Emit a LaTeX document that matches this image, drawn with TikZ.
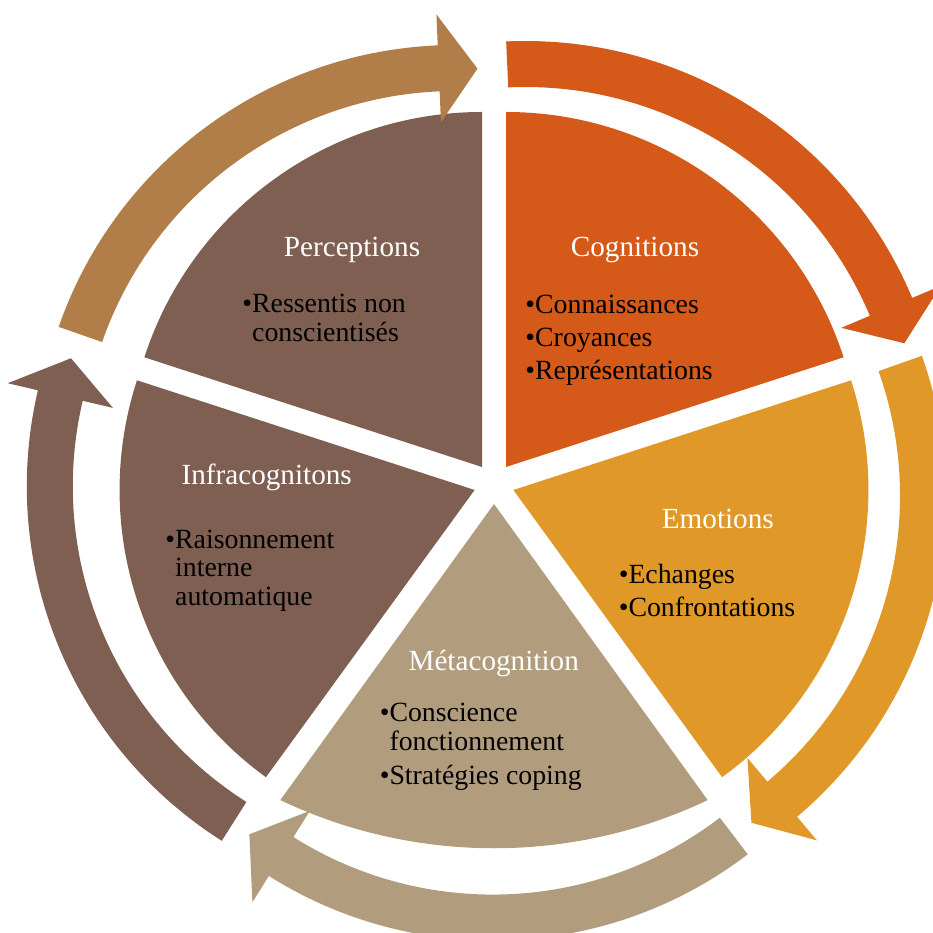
\documentclass[tikz,border=0pt]{standalone}
\usepackage{fontspec}
\setmainfont{Liberation Serif}
\definecolor{cbrown}{RGB}{126,95,82}
\definecolor{corange}{RGB}{213,89,24}
\definecolor{cyellow}{RGB}{224,153,40}
\definecolor{ckhaki}{RGB}{177,157,125}
\definecolor{ctan}{RGB}{177,126,73}
\newcommand{\cyclearrow}[5]{%
  \begin{scope}[shift={(#1,#2)}]
    \fill[#5] (#3:374pt) arc[start angle=#3, end angle=#4, radius=374pt]
      -- (#4:343pt) -- ({#4-5.6}:397pt) -- (#4:451pt) -- (#4:420pt)
      arc[start angle=#4, end angle=#3, radius=420pt] -- cycle;
  \end{scope}}
\begin{document}
\begin{tikzpicture}[x=1pt,y=1pt,
  title/.style={text=white, inner sep=0pt, anchor=base, font=\fontsize{29.2}{35}\selectfont},
  item/.style={text=black, inner sep=0pt, anchor=base west, font=\fontsize{27.8}{33}\selectfont}]
\useasboundingbox (0,0) rectangle (933,932);
\clip (0,0) rectangle (933,932);
% sectors
\fill[cbrown]  (482,465) -- ++(90:355pt) arc[start angle=90, end angle=162, radius=355pt] -- cycle;
\fill[corange] (506,465) -- ++(18:355pt) arc[start angle=18, end angle=90, radius=355pt] -- cycle;
\fill[cyellow] (513.4,442) -- ++(-54:355pt) arc[start angle=-54, end angle=18, radius=355pt] -- cycle;
\fill[cbrown]  (474.6,442) -- ++(162:355pt) arc[start angle=162, end angle=234, radius=355pt] -- cycle;
\fill[ckhaki]  (494,428) -- (280.3,131.9) arc[start angle=-115.4, end angle=-64.6, radius=498.2pt] -- cycle;
% circular arrows
\cyclearrow{455.3}{467}{160.8}{92.4}{ctan}
\cyclearrow{525.2}{471}{92.6}{22.85}{corange}
\cyclearrow{526}{436}{19.5}{-49.8}{cyellow}
\cyclearrow{492.7}{411.4}{-52.6}{-122.2}{ckhaki}
\cyclearrow{446.8}{445.8}{237.6}{166.8}{cbrown}
% texts
\node[title] (tper) at (352,675) {Perceptions};
\node[item] (per1) at (252,619) {\llap{•}Ressentis non};
\node[item] (per2) at (252,590) {conscientisés};
\node[title] (tcog) at (635,675) {Cognitions};
\node[item] (cog1) at (535,618.7) {\llap{•}Connaissances};
\node[item] (cog2) at (535,585.3) {\llap{•}Croyances};
\node[item] (cog3) at (535,552) {\llap{•}Représentations};
\node[title] (temo) at (717.8,403.7) {Emotions};
\node[item] (emo1) at (628.3,348.7) {\llap{•}Echanges};
\node[item] (emo2) at (628.3,315.3) {\llap{•}Confrontations};
\node[title] (tmet) at (493.7,262) {Métacognition};
\node[item] (met1) at (389.3,210.3) {\llap{•}Conscience};
\node[item] (met2) at (389.3,182) {fonctionnement};
\node[item] (met3) at (389.3,148) {\llap{•}Stratégies coping};
\node[title] (tinf) at (266.7,447) {Infracognitons};
\node[item] (inf1) at (175,383.7) {\llap{•}Raisonnement};
\node[item] (inf2) at (175,355.3) {interne};
\node[item] (inf3) at (175,327) {automatique};
\end{tikzpicture}
\end{document}
